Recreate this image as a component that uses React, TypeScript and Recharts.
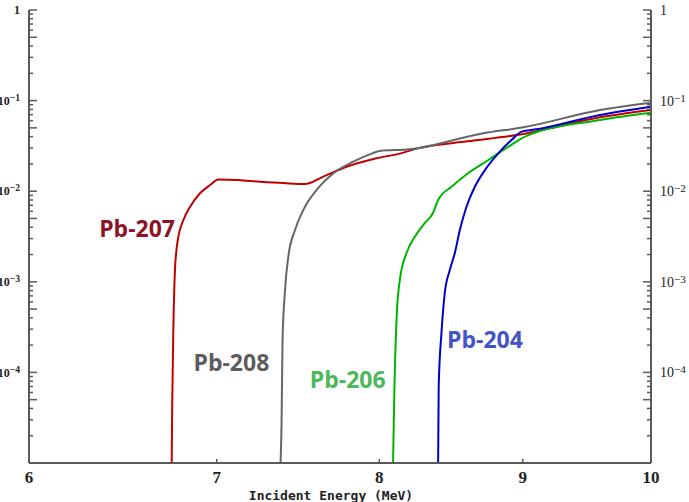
import React from "react";
import { LineChart, Line, XAxis, YAxis, ReferenceDot } from "recharts";

type Pt = { e: number; v: number };

// excitation curves, energy in MeV, value on log scale
const pb207: Pt[] = [
  { e: 6.746, v: 1.0e-5 },
  { e: 6.749, v: 4.6e-5 },
  { e: 6.755, v: 2.9e-4 },
  { e: 6.764, v: 1.35e-3 },
  { e: 6.772, v: 2.2e-3 },
  { e: 6.783, v: 3.15e-3 },
  { e: 6.811, v: 4.8e-3 },
  { e: 6.848, v: 6.7e-3 },
  { e: 6.905, v: 9.5e-3 },
  { e: 6.962, v: 1.17e-2 },
  { e: 7.009, v: 1.35e-2 },
  { e: 7.125, v: 1.33e-2 },
  { e: 7.253, v: 1.27e-2 },
  { e: 7.393, v: 1.23e-2 },
  { e: 7.526, v: 1.2e-2 },
  { e: 7.64, v: 1.45e-2 },
  { e: 7.788, v: 1.86e-2 },
  { e: 7.982, v: 2.31e-2 },
  { e: 8.136, v: 2.6e-2 },
  { e: 8.248, v: 2.95e-2 },
  { e: 8.6, v: 3.55e-2 },
  { e: 8.956, v: 4.17e-2 },
  { e: 9.59, v: 6.54e-2 },
  { e: 10.0, v: 7.87e-2 },
];

const pb208: Pt[] = [
  { e: 7.377, v: 1.0e-5 },
  { e: 7.383, v: 2.77e-5 },
  { e: 7.389, v: 2.28e-4 },
  { e: 7.404, v: 8.1e-4 },
  { e: 7.424, v: 1.89e-3 },
  { e: 7.465, v: 3.73e-3 },
  { e: 7.516, v: 6.2e-3 },
  { e: 7.598, v: 1.03e-2 },
  { e: 7.705, v: 1.58e-2 },
  { e: 7.831, v: 2.12e-2 },
  { e: 7.95, v: 2.6e-2 },
  { e: 8.003, v: 2.78e-2 },
  { e: 8.203, v: 2.9e-2 },
  { e: 8.714, v: 4.36e-2 },
  { e: 9.005, v: 5.07e-2 },
  { e: 9.59, v: 7.87e-2 },
  { e: 10.0, v: 9.48e-2 },
];

const pb206: Pt[] = [
  { e: 8.091, v: 1.0e-5 },
  { e: 8.098, v: 4.6e-5 },
  { e: 8.114, v: 3.79e-4 },
  { e: 8.136, v: 1.05e-3 },
  { e: 8.181, v: 2.08e-3 },
  { e: 8.237, v: 3.15e-3 },
  { e: 8.305, v: 4.46e-3 },
  { e: 8.361, v: 5.75e-3 },
  { e: 8.396, v: 8.0e-3 },
  { e: 8.489, v: 1.12e-2 },
  { e: 8.605, v: 1.58e-2 },
  { e: 8.75, v: 2.21e-2 },
  { e: 8.895, v: 3.1e-2 },
  { e: 9.017, v: 4.0e-2 },
  { e: 9.59, v: 6.11e-2 },
  { e: 10.0, v: 7.35e-2 },
];

const pb204: Pt[] = [
  { e: 8.396, v: 1.0e-5 },
  { e: 8.4, v: 6.95e-5 },
  { e: 8.419, v: 2.72e-4 },
  { e: 8.442, v: 7.52e-4 },
  { e: 8.477, v: 1.35e-3 },
  { e: 8.512, v: 2.08e-3 },
  { e: 8.547, v: 3.73e-3 },
  { e: 8.594, v: 6.74e-3 },
  { e: 8.653, v: 1.12e-2 },
  { e: 8.725, v: 1.71e-2 },
  { e: 8.821, v: 2.62e-2 },
  { e: 8.918, v: 3.67e-2 },
  { e: 8.992, v: 4.54e-2 },
  { e: 9.103, v: 4.82e-2 },
  { e: 9.59, v: 6.94e-2 },
  { e: 10.0, v: 8.57e-2 },
];

// where each isotope name sits, in data coordinates
const labels = [
  { name: "Pb-207", e: 6.557, v: 3.8e-3, color: "#8c1426" },
  { name: "Pb-208", e: 7.085, v: 1.27e-4, color: "#5c5c5c" },
  { name: "Pb-206", e: 7.795, v: 8.2e-5, color: "#4cb85c" },
  { name: "Pb-204", e: 8.725, v: 2.3e-4, color: "#4453c8" },
];

const xTicks = [6, 7, 8, 9, 10];
const decades = [1e-5, 1e-4, 1e-3, 1e-2, 1e-1];
const mantissas = [1, 2, 3, 4, 5, 6, 7, 8, 9];
const yTicks = [...decades.flatMap((d) => mantissas.map((m) => m * d)), 1];
// the bottom decade gets a tick but no number
const lowestLabelled = -4;

const AXIS = "#5a5a5a";
const NUM_FONT = "'Liberation Serif', serif";

function splitTick(v: number) {
  const exp = Math.floor(Math.log10(v) + 1e-9);
  const mant = Math.round(v / Math.pow(10, exp));
  return { exp, mant };
}

function tickLen(mant: number) {
  return mant === 1 || mant === 5 ? 8 : 4;
}

function YLabel({ exp, x, y, anchor, size, bold }: any) {
  return (
    <text
      x={x}
      y={y + size * 0.35}
      textAnchor={anchor}
      fontFamily={NUM_FONT}
      fontSize={size}
      fontWeight={bold ? 700 : 400}
      fill="#222"
    >
      {exp === 0 ? (
        "1"
      ) : (
        <>
          <tspan>10</tspan>
          <tspan dy={-4} fontSize={size * 0.8}>
            {"\u2212" + Math.abs(exp)}
          </tspan>
        </>
      )}
    </text>
  );
}

function LeftTick(props: any) {
  const { x, y, payload } = props;
  const { exp, mant } = splitTick(payload.value);
  return (
    <g>
      <line x1={x} x2={x + tickLen(mant)} y1={y} y2={y} stroke={AXIS} strokeWidth={1.5} />
      {mant === 1 && exp >= lowestLabelled && (
        <YLabel exp={exp} x={x - 9} y={y} anchor="end" size={12} bold />
      )}
    </g>
  );
}

function RightTick(props: any) {
  const { x, y, payload } = props;
  const { exp, mant } = splitTick(payload.value);
  return (
    <g>
      <line x1={x} x2={x - tickLen(mant)} y1={y} y2={y} stroke={AXIS} strokeWidth={1.5} />
      {mant === 1 && exp >= lowestLabelled && (
        <YLabel exp={exp} x={x + 9} y={y} anchor="start" size={14} />
      )}
    </g>
  );
}

function BottomTick(props: any) {
  const { x, y, payload } = props;
  return (
    <g>
      <line x1={x} x2={x} y1={y} y2={y - 4} stroke={AXIS} strokeWidth={1.5} />
      <text
        x={x}
        y={y + 20}
        textAnchor="middle"
        fontFamily={NUM_FONT}
        fontWeight={700}
        fontSize={17}
        fill="#222"
      >
        {payload.value}
      </text>
    </g>
  );
}

const series = [
  { key: "207", data: pb207, color: "#c00000" },
  { key: "208", data: pb208, color: "#666666" },
  { key: "206", data: pb206, color: "#00b400" },
  { key: "204", data: pb204, color: "#0000cc" },
];

export default function App() {
  return (
    <div style={{ position: "absolute", left: 0, top: 0, background: "#fff" }}>
      <LineChart width={689} height={502} margin={{ top: 10, right: 0, bottom: 0, left: 0 }}>
        <XAxis
          dataKey="e"
          type="number"
          scale="log"
          domain={[6, 10]}
          ticks={xTicks}
          allowDataOverflow
          height={39}
          tickSize={0}
          tickMargin={0}
          tickLine={false}
          tick={BottomTick}
          axisLine={{ stroke: AXIS, strokeWidth: 2 }}
          label={{
            value: "Incident Energy (MeV)",
            position: "insideBottom",
            offset: 2,
            dx: -9,
            fill: "#222",
            fontSize: 13,
            fontWeight: 700,
            fontFamily: "'DejaVu Sans Mono', monospace",
          }}
        />
        <YAxis
          yAxisId="l"
          orientation="left"
          type="number"
          scale="log"
          domain={[1e-5, 1]}
          ticks={yTicks}
          interval={0}
          allowDataOverflow
          width={29}
          tickSize={0}
          tickMargin={0}
          tickLine={false}
          tick={LeftTick}
          axisLine={{ stroke: AXIS, strokeWidth: 2 }}
        />
        <YAxis
          yAxisId="r"
          orientation="right"
          type="number"
          scale="log"
          domain={[1e-5, 1]}
          ticks={yTicks}
          interval={0}
          allowDataOverflow
          width={38}
          tickSize={0}
          tickMargin={0}
          tickLine={false}
          tick={RightTick}
          axisLine={{ stroke: AXIS, strokeWidth: 2 }}
        />
        {series.map((s) => (
          <Line
            key={s.key}
            yAxisId="l"
            data={s.data}
            dataKey="v"
            type="monotoneX"
            stroke={s.color}
            strokeWidth={2}
            dot={false}
            isAnimationActive={false}
          />
        ))}
        {labels.map((l) => (
          <ReferenceDot
            key={l.name}
            yAxisId="l"
            x={l.e}
            y={l.v}
            r={0}
            stroke="none"
            fill="none"
            label={{
              value: l.name,
              position: "center",
              fill: l.color,
              fontSize: 23,
              fontWeight: 700,
              fontFamily: "'Open Sans', sans-serif",
            }}
          />
        ))}
      </LineChart>
    </div>
  );
}
